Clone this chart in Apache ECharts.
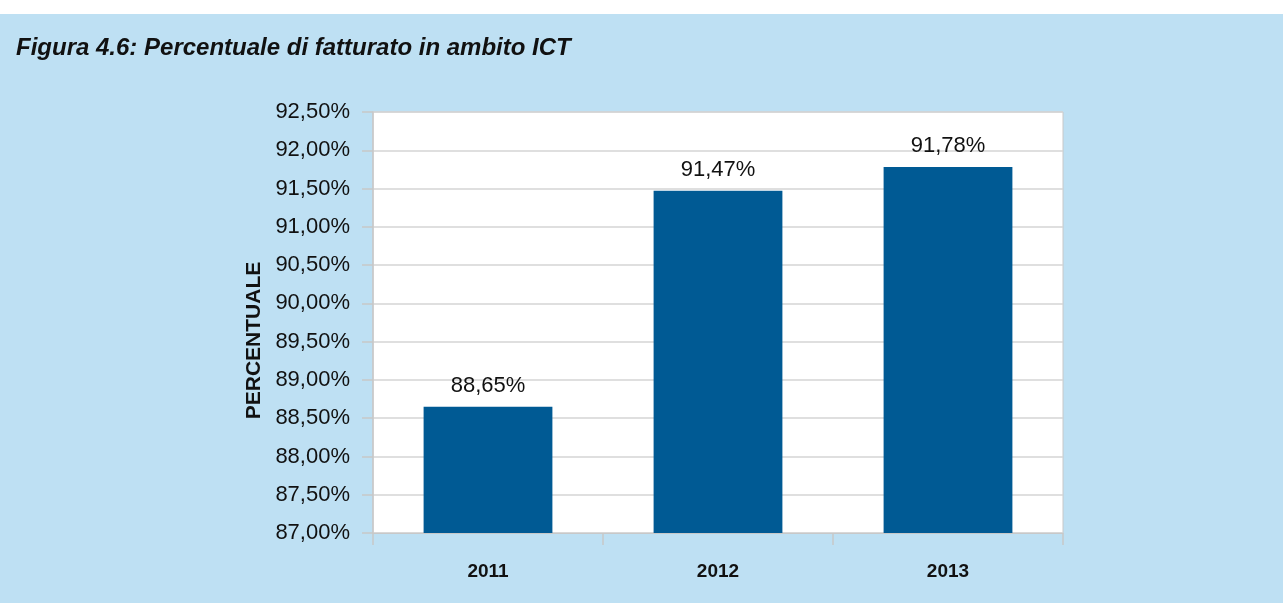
<!DOCTYPE html>
<html>
<head>
<meta charset="utf-8">
<script src="https://cdn.jsdelivr.net/npm/echarts@6/dist/echarts.min.js"></script>
<style>
  html, body { margin: 0; padding: 0; background: #fff; }
  #chart { width: 1283px; height: 603px; }
</style>
</head>
<body>
<div id="chart"></div>
<script>
var years = ['2011', '2012', '2013'];
var values = [88.65, 91.47, 91.78];
var yMin = 87, yMax = 92.5, yStep = 0.5;

function pct(v) {
  return v.toFixed(2).replace('.', ',') + '%';
}

var narrow = "'Liberation Sans Narrow', 'Arial Narrow', 'Liberation Sans', sans-serif";

var chart = echarts.init(document.getElementById('chart'));

var option = {
  backgroundColor: '#bee0f3',
  animation: false,
  graphic: [
    { type: 'rect', shape: { x: 0, y: 0, width: 1283, height: 14 }, style: { fill: '#ffffff' }, z: 100 }
  ],
  title: {
    text: 'Figura 4.6: Percentuale di fatturato in ambito ICT',
    left: 11,
    top: 31,
    textStyle: { fontFamily: narrow, fontSize: 24, fontWeight: 'bold', fontStyle: 'italic', color: '#111' }
  },
  grid: {
    left: 373, right: 220, top: 112, bottom: 70,
    show: true, backgroundColor: '#ffffff', borderColor: '#c8c8c8', borderWidth: 1
  },
  xAxis: {
    type: 'category',
    data: years,
    axisLine: { lineStyle: { color: '#c8c8c8', width: 1 } },
    axisTick: { show: true, length: 12, lineStyle: { color: '#c8c8c8', width: 1.5 } },
    axisLabel: { margin: 29, fontFamily: narrow, fontSize: 19, fontWeight: 'bold', color: '#111' }
  },
  yAxis: {
    type: 'value',
    min: yMin, max: yMax, interval: yStep,
    name: 'PERCENTUALE',
    nameLocation: 'middle',
    nameGap: 108,
    nameTextStyle: { fontFamily: narrow, fontSize: 21, fontWeight: 'bold', color: '#111', padding: [0, 0, 0, -36] },
    axisLine: { show: true, lineStyle: { color: '#c8c8c8', width: 1.5 } },
    axisTick: { show: true, length: 11, lineStyle: { color: '#c8c8c8', width: 1.5 } },
    splitLine: { lineStyle: { color: '#d4d4d4', width: 1.5 } },
    axisLabel: { margin: 23, fontFamily: narrow, fontSize: 22, color: '#111', formatter: pct }
  },
  series: [{
    type: 'bar',
    data: values,
    barWidth: '56%',
    itemStyle: { color: '#005a94' },
    label: {
      show: true, position: 'top', distance: 10,
      fontFamily: narrow, fontSize: 22, color: '#111',
      formatter: function (p) { return pct(p.value); }
    }
  }]
};

chart.setOption(option);
</script>
</body>
</html>
